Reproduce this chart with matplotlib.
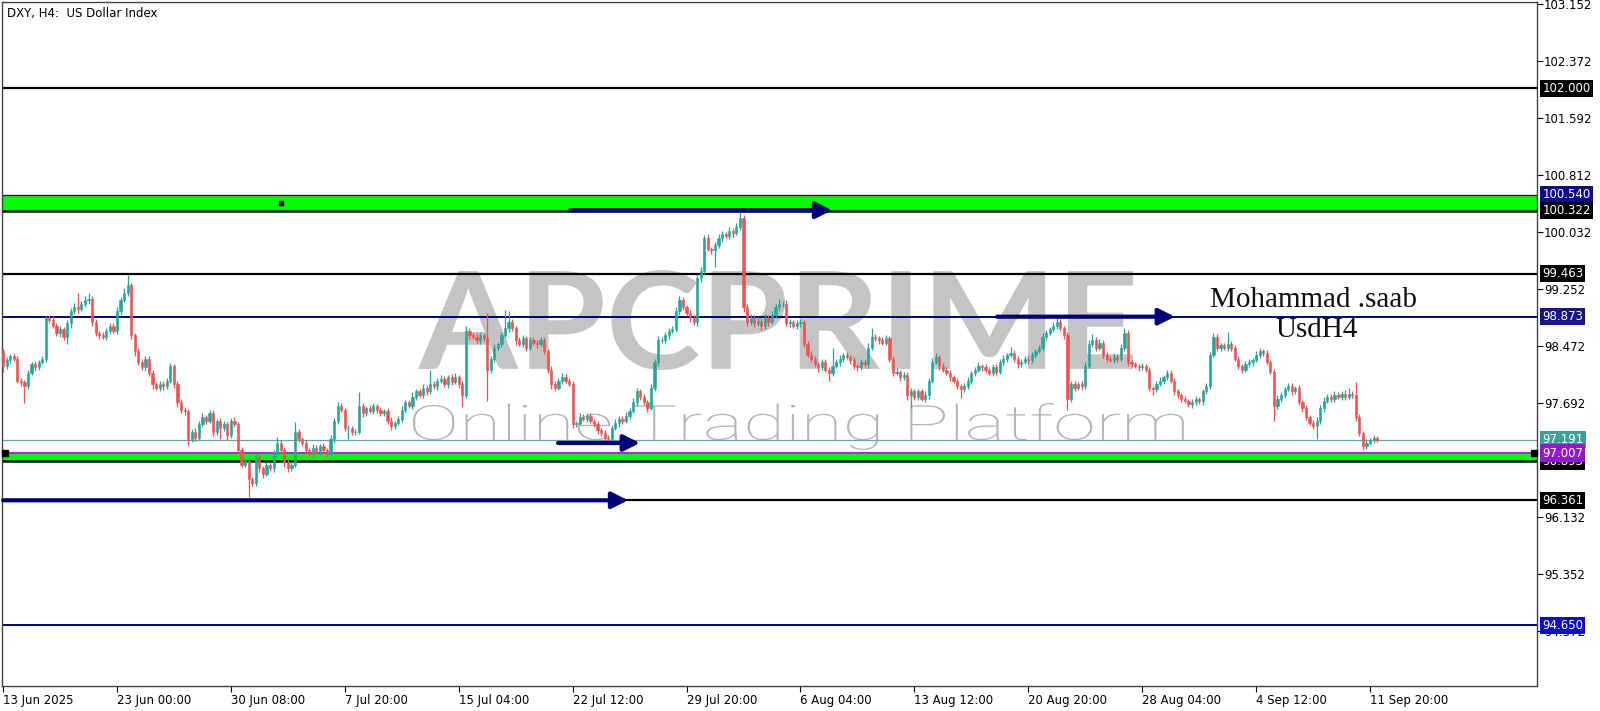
import matplotlib
matplotlib.use("Agg")
import matplotlib.pyplot as plt
import matplotlib.transforms as mtransforms
from matplotlib.textpath import TextPath
from matplotlib.patches import PathPatch
from matplotlib.font_manager import FontProperties

# ---- DXY H4 candles (close, upper wick / lower wick in 1/100 point) ----
first_open = 98.40
closes = [
    98.20, 98.28, 98.33, 98.30, 98.00, 97.98, 97.92, 98.10, 98.22, 98.18,
    98.25, 98.30, 98.85, 98.83, 98.75, 98.65, 98.70, 98.60, 98.78, 98.95,
    99.00, 98.98, 99.05, 99.10, 99.12, 98.80, 98.65, 98.62, 98.60, 98.68,
    98.75, 98.68, 98.95, 99.10, 99.20, 99.30, 98.62, 98.40, 98.25, 98.18,
    98.30, 98.10, 97.95, 97.90, 97.95, 97.92, 98.00, 98.20, 97.95, 97.70,
    97.60, 97.58, 97.20, 97.30, 97.22, 97.40, 97.50, 97.45, 97.55, 97.30,
    97.45, 97.35, 97.40, 97.25, 97.45, 97.40, 97.05, 96.85, 96.90, 96.65,
    96.60, 96.95, 96.80, 96.72, 96.85, 96.80, 97.00, 97.15, 97.05, 96.88,
    96.80, 96.85, 97.30, 97.20, 97.15, 97.05, 97.00, 97.08, 97.02, 97.10,
    97.05, 97.00, 97.20, 97.45, 97.65, 97.60, 97.35, 97.35, 97.30, 97.30,
    97.65, 97.55, 97.62, 97.58, 97.65, 97.60, 97.55, 97.58, 97.45, 97.38,
    97.42, 97.48, 97.60, 97.70, 97.65, 97.78, 97.85, 97.80, 97.90, 97.85,
    97.95, 97.92, 98.00, 98.02, 97.95, 98.05, 97.98, 98.05, 97.95, 97.80,
    98.68, 98.62, 98.60, 98.55, 98.62, 98.58, 98.15, 98.30, 98.45, 98.50,
    98.62, 98.72, 98.80, 98.72, 98.55, 98.50, 98.58, 98.45, 98.55, 98.52,
    98.50, 98.55, 98.40, 98.15, 97.95, 97.90, 98.00, 98.05, 98.00, 97.95,
    97.40, 97.42, 97.50, 97.48, 97.52, 97.45, 97.40, 97.32, 97.28, 97.22,
    97.20, 97.35, 97.42, 97.48, 97.45, 97.52, 97.58, 97.70, 97.85, 97.78,
    97.70, 97.62, 97.90, 98.25, 98.55, 98.55, 98.62, 98.68, 98.70, 98.95,
    99.10, 99.00, 98.92, 98.85, 98.80, 99.40, 99.50, 99.95, 99.80, 99.78,
    99.85, 99.95, 100.00, 99.98, 100.05, 100.02, 100.10, 100.22, 99.00, 98.80,
    98.85, 98.78, 98.82, 98.75, 98.85, 98.80, 98.90, 99.00, 99.05, 99.05,
    98.78, 98.80, 98.75, 98.78, 98.80, 98.50, 98.35, 98.30, 98.22, 98.18,
    98.25, 98.15, 98.10, 98.20, 98.25, 98.30, 98.35, 98.32, 98.28, 98.20,
    98.18, 98.25, 98.22, 98.45, 98.60, 98.58, 98.55, 98.52, 98.58, 98.30,
    98.10, 98.12, 98.05, 98.08, 97.80, 97.85, 97.78, 97.85, 97.75, 97.80,
    98.00, 98.25, 98.32, 98.20, 98.15, 98.10, 98.05, 98.00, 97.92, 97.88,
    97.92, 98.00, 98.10, 98.15, 98.20, 98.18, 98.15, 98.10, 98.18, 98.12,
    98.25, 98.30, 98.35, 98.38, 98.30, 98.22, 98.25, 98.30, 98.28, 98.35,
    98.40, 98.45, 98.60, 98.65, 98.70, 98.75, 98.80, 98.72, 98.62, 97.75,
    97.95, 97.90, 97.95, 97.92, 98.20, 98.50, 98.55, 98.45, 98.52, 98.35,
    98.30, 98.28, 98.32, 98.30, 98.45, 98.65, 98.25, 98.22, 98.20, 98.18,
    98.20, 98.15, 97.90, 97.88, 97.95, 98.00, 98.05, 98.10, 98.00, 97.85,
    97.80, 97.75, 97.72, 97.68, 97.70, 97.75, 97.72, 97.85, 97.92, 98.35,
    98.60, 98.45, 98.48, 98.45, 98.50, 98.45, 98.30, 98.20, 98.15, 98.22,
    98.25, 98.28, 98.35, 98.40, 98.38, 98.25, 98.12, 97.65, 97.75, 97.80,
    97.88, 97.92, 97.85, 97.90, 97.70, 97.62, 97.50, 97.42, 97.38, 97.45,
    97.62, 97.72, 97.78, 97.75, 97.80, 97.78, 97.82, 97.78, 97.82, 97.80,
    97.50, 97.28, 97.10, 97.15, 97.18, 97.22, 97.19,
]
upper_wick = [
    5, 4, 3, 4, 3, 4, 3, 4, 3, 5,  3, 4, 3, 4, 5, 3, 4, 3, 5, 4,
    6, 20, 4, 5, 8, 3, 4, 3, 5, 4,  3, 4, 5, 4, 6, 15, 4, 3, 4, 5,
    4, 3, 4, 3, 5, 4, 3, 4, 3, 4,  5, 4, 3, 4, 5, 4, 6, 3, 5, 4,
    3, 4, 5, 3, 4, 5, 3, 4, 3, 4,  3, 5, 4, 3, 4, 3, 5, 8, 4, 3,
    4, 3, 13, 4, 3, 4, 3, 5, 4, 3,  4, 3, 5, 4, 6, 4, 3, 4, 3, 4,
    19, 4, 3, 5, 4, 3, 4, 3, 4, 5,  3, 4, 5, 3, 4, 6, 4, 3, 5, 4,
    20, 4, 3, 5, 4, 3, 4, 5, 3, 4,  6, 4, 3, 5, 4, 3, 34, 4, 5, 3,
    4, 25, 15, 4, 3, 5, 4, 3, 4, 5,  3, 4, 4, 3, 5, 4, 3, 5, 4, 3,
    4, 3, 5, 4, 3, 4, 3, 4, 3, 4,  3, 4, 5, 3, 4, 5, 4, 6, 5, 4,
    3, 4, 5, 4, 6, 4, 5, 4, 5, 6,  5, 4, 3, 4, 5, 6, 5, 4, 5, 3,
    4, 5, 4, 3, 5, 4, 6, 8, 5, 4,  6, 4, 5, 3, 6, 4, 5, 4, 6, 4,
    5, 4, 3, 5, 4, 3, 4, 5, 3, 4,  5, 4, 3, 25, 4, 5, 3, 4, 3, 4,
    3, 5, 4, 6, 12, 4, 3, 5, 4, 3,  4, 5, 3, 4, 3, 5, 4, 3, 4, 5,
    4, 6, 5, 3, 4, 3, 4, 3, 4, 3,  4, 5, 3, 4, 5, 3, 4, 3, 5, 4,
    4, 5, 3, 8, 4, 3, 4, 3, 5, 4,  3, 4, 5, 4, 3, 5, 8, 4, 3, 4,
    5, 4, 3, 4, 5, 6, 8, 4, 5, 3,  4, 3, 5, 4, 5, 7, 4, 3, 4, 3,
    4, 3, 4, 3, 4, 5, 3, 4, 5, 3,  4, 3, 4, 3, 5, 4, 3, 4, 5, 4,
    5, 4, 3, 4, 16, 4, 3, 4, 3, 5,  4, 3, 5, 4, 3, 4, 3, 4, 5, 4,
    3, 5, 4, 3, 4, 3, 4, 3, 4, 5,  4, 5, 3, 4, 5, 4, 3, 5, 8, 4,
    18, 4, 3, 5, 4, 3, 2,
]
lower_wick = [
    8, 4, 5, 3, 4, 6, 23, 4, 3, 5,  4, 3, 4, 5, 3, 4, 5, 4, 10, 6,
    4, 5, 3, 4, 5, 6, 4, 5, 3, 4,  5, 3, 4, 5, 3, 4, 5, 6, 4, 3,
    5, 4, 6, 3, 4, 5, 3, 4, 5, 6,  4, 5, 8, 4, 5, 3, 4, 5, 3, 6,
    4, 15, 4, 6, 3, 4, 5, 4, 3, 25,  5, 4, 5, 6, 3, 4, 5, 3, 4, 6,
    5, 4, 3, 4, 5, 3, 4, 5, 3, 4,  5, 4, 3, 5, 4, 3, 4, 15, 5, 4,
    3, 5, 4, 3, 4, 5, 3, 4, 5, 6,  4, 3, 5, 4, 3, 4, 5, 3, 4, 5,
    3, 4, 5, 3, 4, 5, 4, 3, 5, 16,  4, 5, 3, 4, 5, 4, 43, 5, 4, 3,
    4, 3, 5, 4, 6, 3, 4, 5, 3, 4,  5, 3, 4, 5, 6, 4, 3, 5, 4, 3,
    5, 4, 3, 4, 5, 3, 4, 5, 4, 3,  5, 4, 3, 5, 4, 3, 4, 3, 5, 4,
    4, 5, 3, 4, 5, 3, 4, 5, 3, 4,  5, 3, 4, 5, 4, 6, 5, 4, 3, 5,
    23, 4, 5, 3, 4, 5, 3, 4, 6, 5,  4, 5, 3, 6, 4, 5, 3, 4, 5, 4,
    4, 5, 3, 4, 5, 4, 3, 5, 4, 6,  4, 3, 10, 4, 3, 5, 4, 3, 5, 4,
    5, 3, 4, 5, 3, 4, 5, 3, 4, 5,  4, 3, 5, 4, 6, 18, 4, 5, 3, 4,
    5, 4, 3, 5, 4, 3, 5, 4, 3, 12,  4, 3, 5, 4, 3, 5, 4, 3, 4, 5,
    3, 4, 5, 3, 4, 5, 4, 3, 5, 4,  4, 3, 4, 5, 3, 4, 5, 4, 5, 15,
    5, 4, 3, 5, 4, 3, 4, 5, 3, 4,  5, 3, 4, 5, 3, 4, 5, 4, 3, 5,
    4, 3, 5, 8, 4, 3, 5, 4, 3, 5,  4, 5, 3, 4, 5, 3, 4, 5, 3, 4,
    3, 5, 4, 3, 4, 5, 3, 4, 5, 3,  4, 5, 3, 4, 5, 4, 3, 20, 4, 5,
    4, 3, 5, 4, 3, 5, 4, 3, 4, 18,  4, 5, 3, 4, 5, 3, 4, 5, 3, 4,
    5, 4, 5, 4, 3, 4, 3,
]

# time axis: one label every 32 bars
time_ticks = [0, 32, 64, 96, 128, 160, 192, 224, 256, 288, 320, 352, 384]
time_labels = ["13 Jun 2025", "23 Jun 00:00", "30 Jun 08:00", "7 Jul 20:00",
               "15 Jul 04:00", "22 Jul 12:00", "29 Jul 20:00", "6 Aug 04:00",
               "13 Aug 12:00", "20 Aug 20:00", "28 Aug 04:00", "4 Sep 12:00",
               "11 Sep 20:00"]
price_ticks = [103.152, 102.372, 101.592, 100.812, 100.032, 99.252, 98.472,
               97.692, 96.132, 95.352, 94.572]

# horizontal levels
levels = [102.000, 99.463, 98.873, 96.361, 94.650, 97.191]
level_colors = ["black", "black", "#000080", "black", "#000080", "#5ea8a8"]
level_widths = [1.6, 1.6, 1.4, 1.6, 1.4, 0.9]

# green zones (low, high)
zone_lows = [100.322, 96.895]
zone_highs = [100.540, 97.007]

# price tag boxes on the right axis
tag_values = [102.000, 100.540, 100.322, 99.463, 98.873, 96.895, 97.191, 97.007, 96.361, 94.650]
tag_colors = ["black", "#0c0c8c", "black", "black", "#16168a", "black", "#3aa09a", "#9418d0", "black", "#0a0ad0"]

# arrows (from bar, to bar, level)
arrow_from = [159.3, 279.2, 155.9, 0.0]
arrow_to = [232.9, 329.2, 178.9, 175.6]
arrow_level = [100.33, 98.873, 97.145, 96.361]

up_col = "#26a69a"
dn_col = "#ef5350"

fig = plt.figure(figsize=(16, 7.11), dpi=100)
fig.patch.set_facecolor("white")
ax = fig.add_axes([2 / 1600, 25 / 711, 1535 / 1600, 684 / 711])
ax.set_xlim(-0.3, 430.9)
ax.set_ylim(93.82, 103.179)

# watermark
def put_text_path(txt, x0, x1, y0, y1, prop, color):
    tp = TextPath((0, 0), txt, size=1, prop=prop)
    ext = tp.get_extents()
    tr = (mtransforms.Affine2D().translate(-ext.x0, -ext.y0)
          .scale((x1 - x0) / ext.width, (y1 - y0) / ext.height)
          .translate(x0, y0))
    patch = PathPatch(tr.transform_path(tp), fc=color, ec="none", zorder=0.5)
    ax.add_patch(patch)

put_text_path("APCPRIME", 116.6, 317.4, 98.144, 99.512,
              FontProperties(family="Lato", weight="bold"), "#c4c4c4")
put_text_path("Online Trading Platform", 115.2, 331.7, 97.049, 97.692,
              FontProperties(family="Roboto", weight="light"), "#b4b4b4")

# zones
for lo, hi in zip(zone_lows, zone_highs):
    ax.axhspan(lo, hi, color="#00ff00", zorder=1, lw=0)
ax.axhline(100.540, color="#1a1a6a", lw=1.0, zorder=1.5)
ax.axhline(100.322, color="black", lw=1.8, zorder=1.5)
ax.axhline(96.895, color="black", lw=1.8, zorder=1.5)
ax.axhline(97.007, color="#9b30d9", lw=1.4, zorder=1.5)

for lv, c, w in zip(levels, level_colors, level_widths):
    ax.axhline(lv, color=c, lw=w, zorder=1.5)

# candles
opens = [first_open] + closes[:-1]
for i, (o, c, uw, lw_) in enumerate(zip(opens, closes, upper_wick, lower_wick)):
    col = up_col if c >= o else dn_col
    hi = max(o, c) + uw / 100
    lo = min(o, c) - lw_ / 100
    ax.vlines(i, lo, hi, color=col, lw=0.9, zorder=3)
    ax.bar(i, abs(c - o), bottom=min(o, c), width=0.62, color=col,
           edgecolor=col, lw=0.4, zorder=3)

# arrows
for a, b, lv in zip(arrow_from, arrow_to, arrow_level):
    ax.annotate("", xy=(b, lv), xytext=(a, lv),
                arrowprops=dict(arrowstyle="-|>,head_length=0.7,head_width=0.35",
                                color="#00007a", lw=3, shrinkA=0, shrinkB=0,
                                mutation_scale=14), zorder=4)

# small markers
ax.plot([0.6, 430.0], [97.007, 97.007], ls="none", marker="s", ms=4.5,
        color="black", zorder=5, clip_on=False)
ax.plot([78.1], [100.433], ls="none", marker="s", ms=3, color="black", zorder=5)

# author text
ax.text(368, 99.10, "Mohammad .saab", family="Liberation Serif", fontsize=21,
        ha="center", va="center", color="#111111", zorder=6)
ax.text(369, 98.69, "UsdH4", family="Liberation Serif", fontsize=21,
        ha="center", va="center", color="#111111", zorder=6)

ax.text(0.003, 0.992, "DXY, H4:  US Dollar Index", transform=ax.transAxes,
        fontsize=8.5, ha="left", va="top", color="black")

# axes styling
for s in ax.spines.values():
    s.set_color("#444444")
    s.set_linewidth(1.0)
ax.yaxis.tick_right()
ax.set_yticks(price_ticks)
ax.set_yticklabels(["%.3f" % v for v in price_ticks])
ax.tick_params(axis="y", length=4, width=0.8, pad=1, labelsize=8.5, colors="black")
ax.set_xticks(time_ticks)
ax.set_xticklabels(time_labels, ha="left")
ax.tick_params(axis="x", length=4, width=0.8, pad=2, labelsize=8.5, colors="black")

blend = mtransforms.blended_transform_factory(ax.transAxes, ax.transData)
for v, c in zip(tag_values, tag_colors):
    ax.text(1.0034, v, "%.3f" % v, transform=blend, fontsize=8.5, color="white",
            ha="left", va="center", zorder=10, clip_on=False,
            bbox=dict(boxstyle="square,pad=0.18", fc=c, ec="none"))

fig.savefig("out.png", dpi=100)
